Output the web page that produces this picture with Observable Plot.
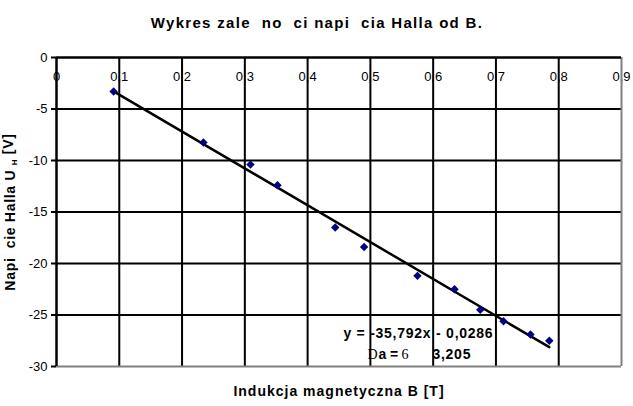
<!DOCTYPE html>
<html>
<head>
<meta charset="utf-8">
<script src="https://cdn.jsdelivr.net/npm/d3@7"></script>
<script src="https://cdn.jsdelivr.net/npm/@observablehq/plot@0.6"></script>
<style>
  html, body { margin: 0; padding: 0; background: #fff; }
  #chart svg { display: block; }
</style>
</head>
<body>
<div id="chart"></div>
<script>
// Data
const inductionB = [0.091, 0.234, 0.309, 0.352, 0.444, 0.490, 0.575, 0.634, 0.675, 0.712, 0.755, 0.785];
const hallVoltage = [-3.3, -8.25, -10.4, -12.4, -16.5, -18.4, -21.2, -22.5, -24.5, -25.6, -26.9, -27.5];
const trendSlope = -35.792;
const trendIntercept = -0.0286;
const xTicks = [0, 0.1, 0.2, 0.3, 0.4, 0.5, 0.6, 0.7, 0.8, 0.9];
const xTickLabels = ["0", "0,1", "0,2", "0,3", "0,4", "0,5", "0,6", "0,7", "0,8", "0,9"];
const yTicks = [0, -5, -10, -15, -20, -25, -30];
const yTickLabels = ["0", "-5", "-10", "-15", "-20", "-25", "-30"];
const titleText = "Wykres zale  no  ci napi  cia Halla od B.";
const xLabel = "Indukcja magnetyczna B [T]";
const yLabelMain = "Napi  cie Halla U ";
const yLabelSub = "H";
const yLabelEnd = " [V]";
const eqLine1 = "y = -35,792x - 0,0286";

const points = inductionB.map((b, i) => ({b, u: hallVoltage[i]}));
const xExt = d3.extent(inductionB);
const trend = xExt.map(b => ({b, u: trendSlope * b + trendIntercept}));
const xTickData = xTicks.map((t, i) => ({t, label: xTickLabels[i]}));
const innerX = xTicks.slice(1, -1);
const innerY = yTicks.slice(1, -1);

const W = 633, H = 406;
const sans = "'Liberation Sans', Arial, sans-serif";
const serif = "'Liberation Serif', 'Times New Roman', serif";

const eqX = 0.5, eqY1 = -26.8, eqY2 = -28.85;

const chart = Plot.plot({
  width: W,
  height: H,
  marginTop: 57,
  marginBottom: 40,
  marginLeft: 56,
  marginRight: 12,
  style: {fontFamily: sans, fontSize: "12px", background: "#fff", color: "#000"},
  x: {domain: [0, 0.9], axis: null},
  y: {domain: [-30, 0], axis: null},
  marks: [
    Plot.axisY({ticks: yTicks, tickSize: 5, tickPadding: 4, tickFormat: (d) => yTickLabels[yTicks.indexOf(d)], label: null, fontSize: 13, stroke: "#000", strokeWidth: 2}),
    Plot.ruleY(innerY, {stroke: "#000", strokeWidth: 2}),
    Plot.text(xTickData, {x: "t", y: () => 0, text: "label", dy: 19, fontSize: 13, fill: "#000"}),
    Plot.ruleX(innerX, {stroke: "#000", strokeWidth: 2}),
    Plot.ruleX([xTicks[xTicks.length - 1]], {stroke: "#808080", strokeWidth: 2}),
    Plot.ruleY([yTicks[yTicks.length - 1]], {stroke: "#808080", strokeWidth: 2}),
    Plot.ruleX([xTicks[0]], {stroke: "#000", strokeWidth: 2.5}),
    Plot.ruleY([yTicks[0]], {stroke: "#000", strokeWidth: 2.5}),
    Plot.line(trend, {x: "b", y: "u", stroke: "#000", strokeWidth: 2.5}),
    Plot.dot(points, {x: "b", y: "u", symbol: "diamond2", r: 3.8, fill: "#000080", stroke: "none"}),
    // regression equation
    Plot.text([eqLine1], {x: () => eqX, y: () => eqY1, text: d => d, textAnchor: "start", dx: -27, fontWeight: "bold", fontSize: 14, fill: "#000", className: "eq"}),
    Plot.text(["D"], {x: () => eqX, y: () => eqY2, text: d => d, textAnchor: "start", dx: -3, fontFamily: serif, fontSize: 14, fill: "#000"}),
    Plot.text(["a ="], {x: () => eqX, y: () => eqY2, text: d => d, textAnchor: "start", dx: 8, fontWeight: "bold", fontSize: 14, fill: "#000"}),
    Plot.text(["6"], {x: () => eqX, y: () => eqY2, text: d => d, textAnchor: "start", dx: 31, fontFamily: serif, fontSize: 14, fill: "#000"}),
    Plot.text(["3,205"], {x: () => eqX, y: () => eqY2, text: d => d, textAnchor: "start", dx: 62, fontWeight: "bold", fontSize: 14, fill: "#000", className: "eq"}),
    // titles
    Plot.text([titleText], {frameAnchor: "top", dx: -22, dy: -40, text: d => d, fontWeight: "bold", fontSize: 15, fill: "#000", className: "ttl"}),
    Plot.text([xLabel], {frameAnchor: "bottom", dy: 29, text: d => d, fontWeight: "bold", fontSize: 14, fill: "#000", className: "xlab"}),
    Plot.text([yLabelMain], {frameAnchor: "left", dx: -46, rotate: -90, textAnchor: "middle", text: d => d, fontWeight: "bold", fontSize: 14, fill: "#000", className: "ylab"})
  ]
});

const svg = d3.select(chart);
svg.selectAll(".ttl text").style("letter-spacing", "1.3px");
svg.selectAll(".xlab text").style("letter-spacing", "1px");
svg.selectAll(".eq text").style("letter-spacing", "0.75px");

// add subscript H and [V] to the y label as real text spans
const ylabText = svg.select(".ylab text");
ylabText.style("letter-spacing", "0.7px");
ylabText.text(null);
ylabText.append("tspan").text(yLabelMain);
ylabText.append("tspan").attr("font-size", 8).attr("dy", "0.25em").text(yLabelSub);
ylabText.append("tspan").attr("dy", "-0.25em").text(yLabelEnd);

document.getElementById("chart").appendChild(chart);
</script>
</body>
</html>
